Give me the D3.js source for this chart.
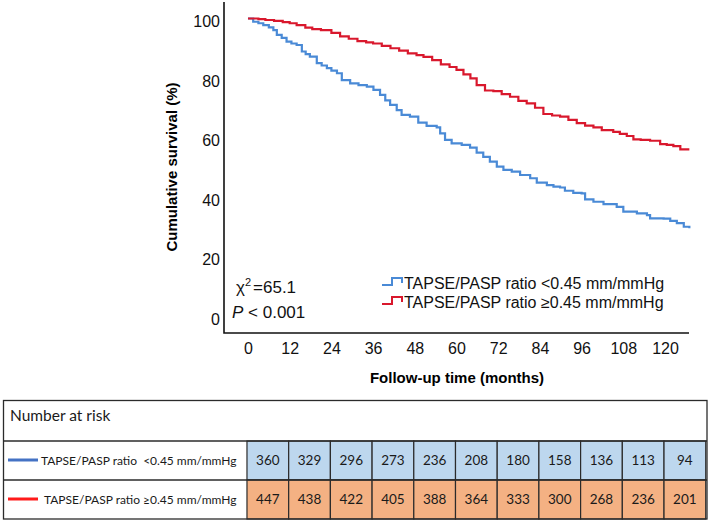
<!DOCTYPE html>
<html>
<head>
<meta charset="utf-8">
<script src="https://cdn.jsdelivr.net/npm/d3@7"></script>
<style>
  body { margin: 0; background: #fff; }
  svg { display: block; }
</style>
</head>
<body>
<svg id="chart" width="709" height="522"></svg>
<script>
// survival curves (months, cumulative survival %)
var lowMonths = [0, 1.5, 3, 4.4, 6, 7.3, 8.3, 9.7, 11.1, 12.5, 14, 15.5, 16.6, 17.8, 19.8, 21.2, 22.7, 24, 25.6, 27,
  29.4, 31.8, 34.2, 36.1, 38, 39.5, 40.9, 42.8, 44.2, 46.6, 49, 51.4, 54.3, 55.3, 56.7, 58.6, 61.5, 63.9, 65.8, 67.7,
  69.6, 71.6, 73.5, 75.9, 78.3, 81.2, 83.1, 86, 87.9, 89.8, 91.2, 93.6, 96, 97, 99.4, 102.3, 106.1, 108, 111.9, 114.8,
  115.7, 119.6, 121.5, 123.4, 125.4, 127];
var lowSurv = [100, 98.9, 98.4, 97.8, 97, 96.1, 94.5, 93.5, 92.2, 91.6, 91.1, 88.9, 88, 87.2, 85, 84.2, 83.3, 82.5, 81.6, 79.3,
  78.2, 77.6, 77.1, 76, 74.3, 72.5, 71, 69.2, 67.6, 67, 65, 63.9, 63.4, 61.4, 59.2, 58, 57.5, 56.6, 54.9, 53.5,
  51.9, 50.2, 49.1, 48.5, 47.4, 46.3, 44.8, 44, 43.5, 43.2, 42.1, 41.4, 41.2, 39.2, 38.4, 37.6, 36.7, 35.1, 34.5, 33.9,
  32.8, 32.7, 32, 31.2, 30, 29.5];

var highMonths = [0, 3, 5, 7.5, 10, 12, 14, 16.5, 18.5, 21, 24, 26.5, 29, 31.5, 34, 36, 38.5, 41, 43.5, 46, 48.5, 50.5,
  53, 55.5, 58, 60, 62, 64, 65.8, 68.2, 70.6, 73, 75.4, 77.8, 80.2, 82.6, 85, 87.5, 89.8, 92.2, 94.6, 97, 99.4, 101.8,
  105.1, 107, 109, 110.9, 113, 115.7, 118.6, 120.5, 122.4, 124.4, 127];
var highSurv = [100, 99.8, 99.5, 99.2, 98.8, 98.4, 97.8, 96.9, 96.4, 96.1, 95.2, 94, 93.2, 92.4, 92, 91.6, 90.8, 90, 89.2, 88.3, 87.7, 87.1,
  86, 84.6, 83.7, 82.7, 81.2, 79.9, 77.6, 75.8, 75.6, 74.6, 73.7, 72.3, 71.5, 70, 67.9, 67.4, 67, 65.9, 64.8, 64, 63.4, 62.5,
  61.9, 61.2, 60.5, 59.4, 59.2, 58.9, 57.8, 57.5, 57.1, 56, 56];

var xTicks = [0, 12, 24, 36, 48, 60, 72, 84, 96, 108, 120];
var yTicks = [0, 20, 40, 60, 80, 100];
var groupNames = ['TAPSE/PASP ratio <0.45 mm/mmHg', 'TAPSE/PASP ratio \u22650.45 mm/mmHg'];
var tableLabels = ['TAPSE/PASP ratio  <0.45 mm/mmHg', 'TAPSE/PASP ratio \u22650.45 mm/mmHg'];
var riskLow = [360, 329, 296, 273, 236, 208, 180, 158, 136, 113, 94];
var riskHigh = [447, 438, 422, 405, 388, 364, 333, 300, 268, 236, 201];

var curveColors = ['#4a8ad6', '#d9182d'];
var tableLineColors = ['#4472c4', '#ff1a1a'];
var cellColors = ['#bdd7ee', '#f4b183'];
var sans = '"Liberation Sans", Arial, sans-serif';
var tableFont = 'Lato, "Open Sans", sans-serif';

var svg = d3.select('#chart');

var x = d3.scaleLinear().domain([-6.9, 126.9]).range([224, 689]);
var y = d3.scaleLinear().domain([0, 100]).range([316, 18.5]);

// axes
var yAxis = svg.append('g')
  .attr('transform', 'translate(224,3)')
  .call(d3.axisLeft(y).tickValues(yTicks).tickSize(0).tickPadding(4));
yAxis.select('.domain').remove();
yAxis.selectAll('text')
  .style('font-family', sans)
  .style('font-size', '16px')
  .attr('fill', '#111');

var xAxis = svg.append('g')
  .attr('transform', 'translate(0,333)')
  .call(d3.axisBottom(x).tickValues(xTicks).tickSize(0).tickPadding(9.6));
xAxis.select('.domain').remove();
xAxis.selectAll('text')
  .style('font-family', sans)
  .style('font-size', '16px')
  .attr('fill', '#111');

svg.append('path')
  .attr('d', 'M224,2V333H689')
  .attr('fill', 'none')
  .attr('stroke', '#111')
  .attr('stroke-width', 1.6);

svg.append('text')
  .attr('transform', 'translate(177,167) rotate(-90)')
  .attr('text-anchor', 'middle')
  .style('font-family', sans)
  .style('font-size', '15px')
  .style('font-weight', 'bold')
  .text('Cumulative survival (%)');

svg.append('text')
  .attr('x', 457)
  .attr('y', 383)
  .attr('text-anchor', 'middle')
  .style('font-family', sans)
  .style('font-size', '15px')
  .style('font-weight', 'bold')
  .text('Follow-up time (months)');

// curves
var line = d3.line()
  .x(function(d) { return x(d[0]); })
  .y(function(d) { return y(d[1]); })
  .curve(d3.curveStepAfter);

var series = [d3.zip(lowMonths, lowSurv), d3.zip(highMonths, highSurv)];

svg.append('g')
  .selectAll('path')
  .data(series)
  .enter().append('path')
    .attr('d', line)
    .attr('fill', 'none')
    .attr('stroke', function(d, i) { return curveColors[i]; })
    .attr('stroke-width', 2.2);

// legend
var legend = svg.append('g')
  .selectAll('g')
  .data(groupNames)
  .enter().append('g')
    .attr('transform', function(d, i) { return 'translate(0,' + (i * 19) + ')'; });

legend.append('path')
  .attr('d', 'M382,285H392V278H402V283')
  .attr('fill', 'none')
  .attr('stroke', function(d, i) { return curveColors[i]; })
  .attr('stroke-width', 2);

legend.append('text')
  .attr('x', 404)
  .attr('y', 289)
  .style('font-family', sans)
  .style('font-size', '16px')
  .attr('fill', '#111')
  .text(function(d) { return d; });

// statistics
var chi = svg.append('text')
  .attr('x', 236)
  .attr('y', 293)
  .style('font-family', sans)
  .style('font-size', '17px')
  .attr('fill', '#111');
chi.append('tspan').text('\u03c7');
chi.append('tspan').attr('dy', -7).style('font-size', '11px').text('2');
chi.append('tspan').attr('dy', 7).attr('dx', 2).text('=65.1');

var pval = svg.append('text')
  .attr('x', 232)
  .attr('y', 318)
  .style('font-family', sans)
  .style('font-size', '17px')
  .attr('fill', '#111');
pval.append('tspan').style('font-style', 'italic').text('P');
pval.append('tspan').text(' < 0.001');

// number at risk table
var table = svg.append('g');
var rowTop = [441, 480];
var rowH = 39;
var risk = [riskLow, riskHigh];

table.selectAll('g.row')
  .data(risk)
  .enter().append('g')
    .attr('class', 'row')
    .each(function(vals, r) {
      var g = d3.select(this);
      g.selectAll('rect')
        .data(vals)
        .enter().append('rect')
          .attr('x', function(d, i) { return x(xTicks[i]) - 1; })
          .attr('y', rowTop[r])
          .attr('width', function(d, i) { return x(xTicks[i] + 12) - x(xTicks[i]); })
          .attr('height', rowH)
          .attr('fill', cellColors[r])
          .attr('stroke', '#2b2b2b')
          .attr('stroke-width', 1.2);
      g.selectAll('text.num')
        .data(vals)
        .enter().append('text')
          .attr('class', 'num')
          .attr('x', function(d, i) { return x(xTicks[i] + 6) - 1; })
          .attr('y', rowTop[r] + rowH / 2)
          .attr('dy', '0.36em')
          .attr('text-anchor', 'middle')
          .style('font-family', tableFont)
          .style('font-size', '13.5px')
          .attr('fill', '#1a1a1a')
          .text(function(d) { return d; });
      g.append('line')
        .attr('x1', 8).attr('x2', 38)
        .attr('y1', rowTop[r] + 19).attr('y2', rowTop[r] + 19)
        .attr('stroke', tableLineColors[r])
        .attr('stroke-width', 3);
      g.append('text')
        .attr('x', r === 0 ? 41 : 44)
        .attr('y', rowTop[r] + rowH / 2)
        .attr('dy', '0.36em')
        .style('font-family', tableFont)
        .style('font-size', '12px')
        .style('white-space', 'pre')
        .attr('fill', '#1a1a1a')
        .text(tableLabels[r]);
    });

table.append('rect')
  .attr('x', 3.5).attr('y', 400.5)
  .attr('width', 703.5).attr('height', 118.5)
  .attr('fill', 'none')
  .attr('stroke', '#2b2b2b')
  .attr('stroke-width', 1.3);

table.selectAll('line.h')
  .data(rowTop)
  .enter().append('line')
    .attr('class', 'h')
    .attr('x1', 3.5).attr('x2', 707)
    .attr('y1', function(d) { return d; })
    .attr('y2', function(d) { return d; })
    .attr('stroke', '#2b2b2b')
    .attr('stroke-width', 1.3);

table.append('text')
  .attr('x', 10)
  .attr('y', 421)
  .style('font-family', tableFont)
  .style('font-size', '15.5px')
  .attr('fill', '#1a1a1a')
  .text('Number at risk');
</script>
</body>
</html>
